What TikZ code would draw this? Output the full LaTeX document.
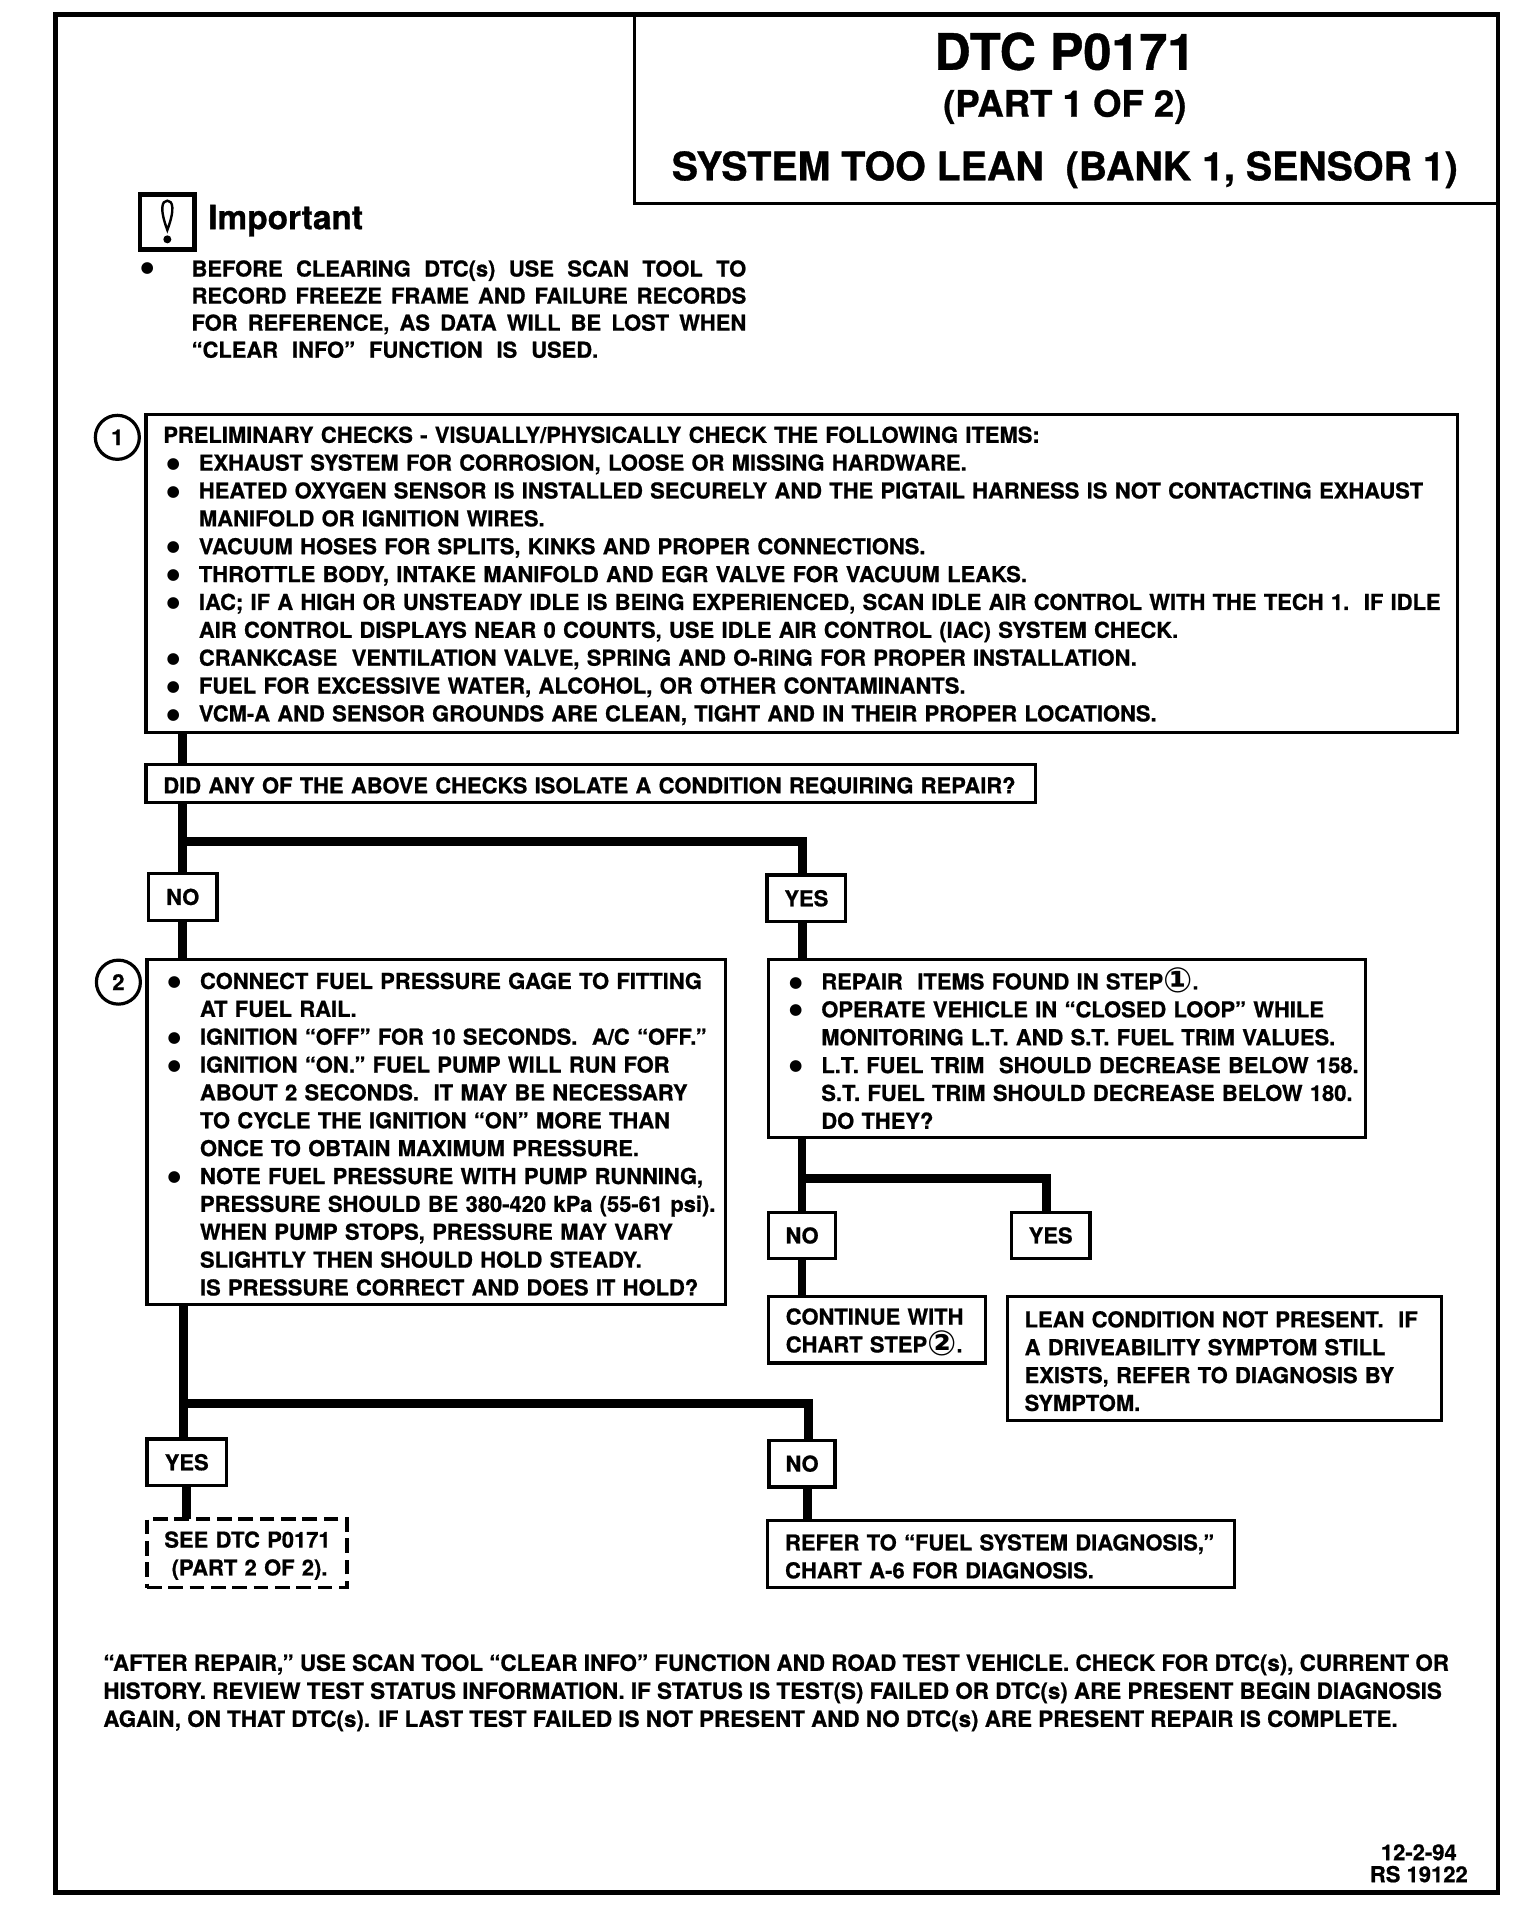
\documentclass[tikz,border=0pt]{standalone}
\usepackage{fontspec}
\setmainfont{TeX Gyre Heros}[BoldFeatures={FakeBold=0.8}]
\newfontfamily\circfont{DejaVu Sans}
\usetikzlibrary{calc,positioning}
\newcommand{\diagfont}{\fontsize{16.45}{20.9}\bfseries\selectfont}
\newcommand{\notefont}{\fontsize{16.45}{20.3}\bfseries\selectfont}
\newcommand{\footfont}{\fontsize{16.8}{21}\bfseries\selectfont}
\newcommand{\bigdot}{\raisebox{1.8pt}{\circfont\mdseries\fontsize{11.5}{11.5}\selectfont ●}}
\newcommand{\bul}{\makebox[26.7pt][l]{\hspace{2.5pt}\bigdot}}
\newcommand{\ind}{\hspace*{26.7pt}}
\newcommand{\fillline}[1]{\makebox[416pt][s]{#1}}
\newcommand{\stepref}[1]{\raisebox{-2.5pt}{\circfont\fontsize{26}{20}\selectfont #1}}

\begin{document}
\begin{tikzpicture}[
        x=1pt, y=1pt,
        textbox/.style={draw, line width=2.4pt, outer sep=0pt, inner xsep=13pt, inner ysep=4.8pt, align=left, font=\diagfont, execute at begin node={\rule{0pt}{15.7pt}}},
        ansbox/.style={draw, line width=2.4pt, outer sep=0pt, minimum height=35pt, inner sep=2pt, font=\diagfont},
        note/.style={inner sep=0pt, align=left, font=\notefont},
        stepno/.style={draw, circle, line width=2.4pt, outer sep=0pt, minimum size=33pt, inner sep=0pt, font=\diagfont},
        flow/.style={line width=6.5pt}
      ]
      \useasboundingbox (0,0) rectangle (1140,-1443);
      \node[draw, line width=3.5pt, outer sep=0pt, minimum width=1082pt, minimum height=1408.6pt, anchor=north west] (frame) at (41.4,-11) {};
      \node[draw, line width=2.5pt, outer sep=0pt, minimum width=647.7pt, minimum height=141.7pt, anchor=north east] (titlebox) at (frame.north east) {};
      \node[inner sep=0pt, font=\fontsize{37.7}{40}\bfseries\selectfont] (dtc) at (798.6,-38.6) {DTC P0171};
      \node[inner sep=0pt, font=\fontsize{27.4}{30}\bfseries\selectfont, below=14pt of dtc] (part) {(PART 1 OF 2)};
      \node[inner sep=0pt, font=\fontsize{29.5}{34}\bfseries\selectfont, below=20pt of part] (system) {SYSTEM TOO LEAN\ \ (BANK 1, SENSOR 1)};

      % important note
      \node[draw, line width=3.5pt, outer sep=0pt, minimum width=41pt, minimum height=41pt, anchor=north west] (impbox) at (105,-146) {};
      \draw[line width=1.8pt] ($(impbox.center)+(0,-6)$) .. controls ($(impbox.center)+(-6,10)$) and ($(impbox.center)+(-4,16)$) .. ($(impbox.center)+(0,16)$) .. controls ($(impbox.center)+(4,16)$) and ($(impbox.center)+(6,10)$) .. cycle;
      \fill ($(impbox.center)+(0,-13)$) circle (3pt);
      \node[inner sep=0pt, font=\fontsize{25}{28}\bfseries\selectfont, right=10pt of impbox, yshift=1pt] (important) {Important};
      \node[inner sep=0pt] (impdot) at (110.4,-201.5) {\bigdot};
      \node[note, anchor=north west] (imptext) at (143.5,-195) {\fillline{BEFORE CLEARING DTC(s) USE SCAN TOOL TO}\\
        \fillline{RECORD FREEZE FRAME AND FAILURE RECORDS}\\
        \fillline{FOR REFERENCE, AS DATA WILL BE LOST WHEN}\\
        \makebox[305pt][s]{“CLEAR INFO” FUNCTION IS USED.}};

      % left column
      \node[textbox, text width=957.5pt, minimum height=238.3pt, anchor=north west] (prelim) at (109.5,-311) {PRELIMINARY CHECKS - VISUALLY/PHYSICALLY CHECK THE FOLLOWING ITEMS:\\
        \bul EXHAUST SYSTEM FOR CORROSION, LOOSE OR MISSING HARDWARE.\\
        \mbox{\bul HEATED OXYGEN SENSOR IS INSTALLED SECURELY AND THE PIGTAIL HARNESS IS NOT CONTACTING EXHAUST}\\
        \ind MANIFOLD OR IGNITION WIRES.\\
        \bul VACUUM HOSES FOR SPLITS, KINKS AND PROPER CONNECTIONS.\\
        \bul THROTTLE BODY, INTAKE MANIFOLD AND EGR VALVE FOR VACUUM LEAKS.\\
        \mbox{\bul IAC; IF A HIGH OR UNSTEADY IDLE IS BEING EXPERIENCED, SCAN IDLE AIR CONTROL WITH THE TECH 1.\ \ IF IDLE}\\
        \ind AIR CONTROL DISPLAYS NEAR 0 COUNTS, USE IDLE AIR CONTROL (IAC) SYSTEM CHECK.\\
        \bul CRANKCASE\ \ VENTILATION VALVE, SPRING AND O-RING FOR PROPER INSTALLATION.\\
        \bul FUEL FOR EXCESSIVE WATER, ALCOHOL, OR OTHER CONTAMINANTS.\\
        \bul VCM-A AND SENSOR GROUNDS ARE CLEAN, TIGHT AND IN THEIR PROPER LOCATIONS.};
      \node[stepno, left=5pt of prelim.north west, yshift=-17pt] (stepone) {1};
      \node[textbox, text width=641pt, minimum height=28.5pt, inner ysep=2pt, execute at begin node={}, below right=24pt and 0pt of prelim.south west] (question) {\mbox{DID ANY OF THE ABOVE CHECKS ISOLATE A CONDITION REQUIRING REPAIR?}};
      \node[ansbox, minimum width=51.5pt, below right=53.4pt and 1.8pt of question.south west] (noone) {NO};
      \node[textbox, text width=408pt, minimum height=258.6pt, below right=29.4pt and -1pt of noone.south west] (pressure) {\mbox{\bul CONNECT FUEL PRESSURE GAGE TO FITTING}\\
        \ind AT FUEL RAIL.\\
        \mbox{\bul IGNITION “OFF” FOR 10 SECONDS.\ \ A/C “OFF.”}\\
        \bul IGNITION “ON.” FUEL PUMP WILL RUN FOR\\
        \ind ABOUT 2 SECONDS.\ \ IT MAY BE NECESSARY\\
        \ind TO CYCLE THE IGNITION “ON” MORE THAN\\
        \ind ONCE TO OBTAIN MAXIMUM PRESSURE.\\
        \mbox{\bul NOTE FUEL PRESSURE WITH PUMP RUNNING,}\\
        \mbox{\ind PRESSURE SHOULD BE 380-420 kPa (55-61 psi).}\\
        \ind WHEN PUMP STOPS, PRESSURE MAY VARY\\
        \ind SLIGHTLY THEN SHOULD HOLD STEADY.\\
        \ind IS PRESSURE CORRECT AND DOES IT HOLD?};
      \node[stepno, left=5pt of pressure.north west, yshift=-17pt] (steptwo) {2};
      \node[ansbox, minimum width=59.5pt, below right=101pt and 0pt of pressure.south west] (yesthree) {YES};
      \node[textbox, dashed, dash pattern=on 11pt off 5pt, text width=124pt, minimum height=51.5pt, below right=25pt and 0pt of yesthree.south west] (seepart) {\mbox{SEE DTC P0171}\\\ (PART 2 OF 2).};

      % right column
      \node[ansbox, minimum width=59pt, right=412.5pt of noone, yshift=-1pt] (yesone) {YES};
      \node[textbox, text width=422pt, minimum height=133.4pt, below right=28.5pt and 1pt of yesone.south west] (repair) {\bul REPAIR\ \ ITEMS FOUND IN STEP\stepref{①}.\\
        \bul OPERATE VEHICLE IN “CLOSED LOOP” WHILE\\
        \mbox{\ind MONITORING L.T. AND S.T. FUEL TRIM VALUES.}\\
        \mbox{\bul L.T. FUEL TRIM\ \ SHOULD DECREASE BELOW 158.}\\
        \mbox{\ind S.T. FUEL TRIM SHOULD DECREASE BELOW 180.}\\
        \ind DO THEY?};
      \node[ansbox, minimum width=50.5pt, below right=56pt and 0pt of repair.south west] (notwo) {NO};
      \node[ansbox, minimum width=59pt, right=131.7pt of notwo] (yestwo) {YES};
      \node[textbox, text width=137pt, minimum height=49.7pt, below right=28.5pt and 0pt of notwo.south west] (continue) {CONTINUE WITH\\CHART STEP\stepref{②}.};
      \node[textbox, text width=299.7pt, minimum height=93pt, below right=28.5pt and -3pt of yestwo.south west] (lean) {\mbox{LEAN CONDITION NOT PRESENT.\ \ IF}\\
        A DRIVEABILITY SYMPTOM STILL\\
        EXISTS, REFER TO DIAGNOSIS BY\\
        SYMPTOM.};
      \node[ansbox, minimum width=49.5pt, right=407pt of yesthree, yshift=-1pt] (nothree) {NO};
      \node[textbox, text width=324pt, minimum height=50.7pt, below right=25pt and -1pt of nothree.south west] (referto) {REFER TO “FUEL SYSTEM DIAGNOSIS,”\\CHART A-6 FOR DIAGNOSIS.};

      % footer
      \node[inner sep=0pt, align=left, font=\footfont, anchor=north west] (after) at (77.3,-1240.5) {“AFTER REPAIR,” USE SCAN TOOL “CLEAR INFO” FUNCTION AND ROAD TEST VEHICLE. CHECK FOR DTC(s), CURRENT OR\\
        HISTORY. REVIEW TEST STATUS INFORMATION. IF STATUS IS TEST(S) FAILED OR DTC(s) ARE PRESENT BEGIN DIAGNOSIS\\
        AGAIN, ON THAT DTC(s). IF LAST TEST FAILED IS NOT PRESENT AND NO DTC(s) ARE PRESENT REPAIR IS COMPLETE.};
      \node[inner sep=0pt, align=center, anchor=north east, font=\fontsize{16.5}{16.5}\bfseries\selectfont] (stamp) at (1101,-1383) {12-2-94\\RS 19122};

      \coordinate (forkone) at ($(question.south -| noone.north)+(0,-29.5)$);
      \coordinate (forktwo) at ($(repair.south -| notwo.north)+(0,-31)$);
      \coordinate (forkthree) at ($(pressure.south -| yesthree.north)+(-2.5,-74.5)$);

      \draw[flow] (prelim.south -| noone.north) -- (question.north -| noone.north);
      \draw[flow] (question.south -| noone.north) -- (noone.north);
      \draw[flow] (noone.south) -- (noone.south |- pressure.north);
      \draw[flow] (forkone) -| ([xshift=-3pt]yesone.north);
      \draw[flow] ([xshift=-3pt]yesone.south) -- ([xshift=-3pt]yesone.south |- repair.north);
      \draw[flow] (repair.south -| notwo.north) -- (notwo.north);
      \draw[flow] (forktwo) -| ([xshift=-3pt]yestwo.north);
      \draw[flow] (notwo.south) -- (notwo.south |- continue.north);
      \draw[flow] ([xshift=-2.5pt]yesthree.north |- pressure.south) -- ([xshift=-2.5pt]yesthree.north);
      \draw[flow] (forkthree) -| ([xshift=5pt]nothree.north);
      \draw[flow] (yesthree.south) -- (yesthree.south |- seepart.north);
      \draw[flow] ([xshift=4pt]nothree.south) -- ([xshift=4pt]nothree.south |- referto.north);
    \end{tikzpicture}
\end{document}
